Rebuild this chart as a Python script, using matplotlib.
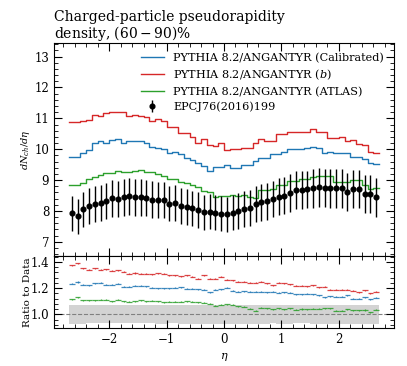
import numpy as np
import matplotlib.pyplot as plt
from matplotlib.ticker import AutoMinorLocator, MultipleLocator

plt.rcParams['font.family'] = 'DejaVu Serif'
plt.rcParams['mathtext.fontset'] = 'dejavuserif'
plt.rcParams['axes.unicode_minus'] = True

# -------------------------- DATA --------------------------
bin_edges = np.round(np.arange(-2.7, 2.7001, 0.1), 2)
bin_centres = 0.5 * (bin_edges[:-1] + bin_edges[1:])

data_vals = [7.92, 7.83, 8.06, 8.16, 8.23, 8.25, 8.31, 8.41, 8.38, 8.44,
             8.47, 8.44, 8.44, 8.42, 8.37, 8.36, 8.35, 8.24, 8.25, 8.16,
             8.12, 8.08, 8.03, 7.96, 7.97, 7.94, 7.91, 7.89, 7.94, 8.00,
             8.06, 8.10, 8.22, 8.28, 8.31, 8.39, 8.46, 8.50, 8.59, 8.68,
             8.68, 8.70, 8.73, 8.76, 8.74, 8.73, 8.73, 8.73, 8.62, 8.72,
             8.72, 8.56, 8.56, 8.44]
data_errs = [0.57, 0.57, 0.57, 0.57, 0.58, 0.58, 0.58, 0.59, 0.59, 0.59,
             0.59, 0.59, 0.59, 0.59, 0.59, 0.59, 0.59, 0.58, 0.58, 0.58,
             0.58, 0.58, 0.58, 0.57, 0.57, 0.57, 0.57, 0.57, 0.57, 0.57,
             0.58, 0.58, 0.58, 0.59, 0.59, 0.59, 0.60, 0.60, 0.61, 0.61,
             0.61, 0.61, 0.62, 0.62, 0.62, 0.62, 0.62, 0.62, 0.62, 0.62,
             0.62, 0.62, 0.62, 0.62]

calibrated = [9.76, 9.76, 9.87, 9.97, 10.19, 10.25, 10.19, 10.30, 10.32, 10.21,
              10.25, 10.28, 10.28, 10.21, 10.08, 10.03, 10.00, 9.87, 9.92, 9.83,
              9.70, 9.65, 9.56, 9.46, 9.30, 9.43, 9.43, 9.49, 9.38, 9.38,
              9.49, 9.49, 9.62, 9.70, 9.70, 9.84, 9.84, 9.92, 10.00, 10.02,
              10.02, 10.05, 10.08, 10.03, 9.89, 9.92, 9.89, 9.89, 9.87, 9.74,
              9.74, 9.67, 9.54, 9.51]
impact_b = [10.88, 10.89, 10.90, 10.95, 11.11, 11.06, 11.16, 11.20, 11.20, 11.19,
            11.08, 11.10, 11.06, 11.03, 10.93, 10.97, 10.93, 10.71, 10.71, 10.54,
            10.54, 10.41, 10.21, 10.32, 10.14, 10.10, 10.19, 9.97, 10.00, 10.00,
            10.05, 10.05, 10.19, 10.34, 10.28, 10.25, 10.50, 10.50, 10.55, 10.57,
            10.57, 10.57, 10.67, 10.57, 10.57, 10.35, 10.35, 10.38, 10.25, 10.30,
            10.17, 10.14, 9.92, 9.89]
atlas = [8.84, 8.84, 8.91, 9.02, 9.11, 9.16, 9.22, 9.24, 9.30, 9.27,
         9.27, 9.29, 9.33, 9.25, 9.25, 9.20, 9.13, 9.02, 9.05, 8.95,
         8.92, 8.84, 8.78, 8.65, 8.62, 8.46, 8.48, 8.50, 8.52, 8.50,
         8.52, 8.45, 8.43, 8.68, 8.68, 8.70, 8.84, 8.84, 8.97, 8.97,
         9.03, 9.03, 9.09, 9.14, 9.14, 9.14, 8.95, 8.95, 8.95, 9.00,
         9.00, 8.84, 8.70, 8.73]

models = [
    ('PYTHIA 8.2/ANGANTYR (Calibrated)', calibrated, '#1f77b4'),
    ('PYTHIA 8.2/ANGANTYR ($b$)', impact_b, '#d62728'),
    ('PYTHIA 8.2/ANGANTYR (ATLAS)', atlas, '#2ca02c'),
]

data = np.array(data_vals)
derr = np.array(data_errs)

# -------------------------- FIGURE --------------------------
fig = plt.figure(figsize=(4.07, 3.66), dpi=100)
ax = fig.add_axes([0.1327, 0.3005, 0.8354, 0.5828])
axr = fig.add_axes([0.1327, 0.1038, 0.8354, 0.1967], sharex=ax)

for label, vals, col in models:
    y = np.append(vals, vals[-1])
    ax.step(bin_edges, y, where='post', color=col, lw=1.0, label=label)

ax.errorbar(bin_centres, data, yerr=derr, fmt='o', color='black',
            ms=3.4, elinewidth=1.0, capsize=0, label='EPCJ76(2016)199')

ax.set_xlim(-2.96, 2.96)
ax.set_ylim(6.54, 13.45)
ax.set_ylabel(r'$dN_{ch}/d\eta$', fontsize=7)
ax.yaxis.set_major_locator(MultipleLocator(1))
ax.set_title('Charged-particle pseudorapidity\ndensity, $(60-90)\\%$',
             loc='left', fontsize=10, pad=3, linespacing=1.0)
ax.tick_params(labelbottom=False)

leg = ax.legend(loc='upper right', frameon=False, fontsize=8.1,
                handlelength=2.05, borderaxespad=0.5, labelspacing=0.4)

# ratio panel
for label, vals, col in models:
    r = np.array(vals) / data
    axr.errorbar(bin_centres, r, xerr=0.05, yerr=0.004, fmt='none',
                 ecolor=col, elinewidth=0.9, alpha=0.85)

rel = derr / data
axr.fill_between(bin_edges, np.append(1 - rel, 1 - rel[-1]),
                 np.append(1 + rel, 1 + rel[-1]), step='post',
                 color='lightgray', lw=0, zorder=0)
axr.axhline(1.0, color='gray', ls='--', lw=0.8, zorder=1)
axr.set_ylim(0.895, 1.445)
axr.yaxis.set_major_locator(MultipleLocator(0.2))
axr.xaxis.set_major_locator(MultipleLocator(1))
axr.set_xlabel(r'$\eta$', fontsize=8)
axr.set_ylabel('Ratio to Data', fontsize=7.5)

for a in (ax, axr):
    a.xaxis.set_minor_locator(AutoMinorLocator(5))
    a.yaxis.set_minor_locator(AutoMinorLocator(5))
    a.tick_params(which='both', direction='in', top=True, right=True,
                  labelsize=8.5)
    a.tick_params(which='major', length=6, width=0.8)
    a.tick_params(which='minor', length=3, width=0.6)

ax.yaxis.set_label_coords(-0.065, 0.5)
axr.yaxis.set_label_coords(-0.065, 0.5)
fig.savefig('out.png', dpi=100)
